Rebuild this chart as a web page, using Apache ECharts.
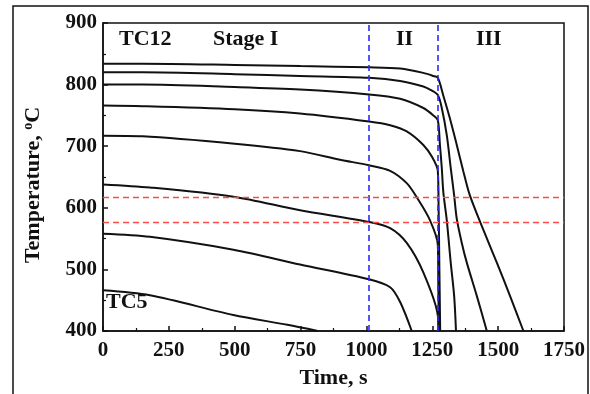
<!DOCTYPE html>
<html><head><meta charset="utf-8">
<script src="https://cdn.jsdelivr.net/npm/echarts@6/dist/echarts.min.js"></script>
<style>html,body{margin:0;padding:0;background:#fff}#c{width:590px;height:394px}</style>
</head><body><div id="c"></div>
<script>
// Temperature curves [time (s), temperature (°C)]
const curve1 = [[0,834],[150,834],[500,832],[750,830],[1010,828],[1128,826],[1216,819],[1254,814],[1271,811],[1292,782],[1317,745],[1343,702],[1368,659],[1392,621],[1444,564],[1495,511],[1545,457],[1596,400]];
const curve2 = [[0,820],[150,820],[500,817],[748,814],[1010,811],[1128,806],[1216,797],[1245,791],[1271,783],[1286,762],[1305,718],[1320,665],[1333,620],[1343,582],[1362,543],[1381,511],[1419,457],[1457,400]];
const curve3 = [[0,800],[150,800],[500,796],[748,792],[1010,784],[1128,777],[1216,762],[1254,750],[1271,742],[1279,702],[1286,665],[1292,625],[1305,580],[1320,511],[1333,457],[1340,400]];
const curve4 = [[0,766],[150,765],[500,760],[748,753],[1010,740],[1090,734],[1153,724],[1216,702],[1250,682],[1271,660],[1274,600],[1277,500],[1280,400]];
const curve5 = [[0,717],[150,716],[500,704],[748,692],[900,678],[1010,669],[1090,660],[1153,640],[1191,617],[1241,580],[1271,540],[1273,470],[1275,400]];
const curve6 = [[0,638],[178,633],[495,618],[748,596],[1010,577],[1090,567],[1153,543],[1216,495],[1271,425],[1273,400]];
const curve7 = [[0,558],[178,553],[495,532],[748,508],[1010,484],[1090,471],[1128,447],[1172,400]];
const curve8 = [[0,466],[178,458],[495,426],[700,410],[815,400]];
const stageLinesX = [1010, 1271];
const tempLinesY = [617, 576];
const xTicks = [0,250,500,750,1000,1250,1500,1750];
const yTicks = [400,500,600,700,800,900];

const curves = [curve1,curve2,curve3,curve4,curve5,curve6,curve7,curve8];
const FONT = '"Liberation Serif", "Times New Roman", serif';
const chart = echarts.init(document.getElementById('c'), null, {renderer:'canvas'});
const series = curves.map(d => ({
  type:'line', data:d, showSymbol:false, smooth:0.3,
  lineStyle:{color:'#111', width:2}, silent:true, z:3
}));
series.push({
  type:'line', data:[], silent:true,
  markLine:{silent:true, symbol:'none', label:{show:false},
    data: stageLinesX.map(x => ({xAxis:x, lineStyle:{color:'#2b2bf5', type:[6,4], width:1.6}}))
      .concat(tempLinesY.map(y => ({yAxis:y, lineStyle:{color:'#ff4a4a', type:[6,4], width:1.4}})))
  }
});
chart.setOption({
  animation:false,
  grid:{left:103, top:23, right:26, bottom:58, show:true, borderColor:'#111', borderWidth:1.5},
  xAxis:{type:'value', min:0, max:1750, interval:250,
    name:'Time, s', nameLocation:'middle', nameGap:36,
    nameTextStyle:{fontFamily:FONT, fontWeight:'bold', fontSize:22, color:'#111'},
    axisLine:{onZero:false, lineStyle:{color:'#111', width:1.5}},
    axisTick:{inside:true, length:5, lineStyle:{color:'#111', width:1.5}},
    minorTick:{show:true, splitNumber:2, length:3, lineStyle:{color:'#111', width:1.2}},
    axisLabel:{margin:9, fontFamily:FONT, fontWeight:'bold', fontSize:21, color:'#111',
      formatter:v => xTicks.includes(v) ? String(v) : ''},
    splitLine:{show:false}},
  yAxis:{type:'value', min:400, max:900, interval:100,
    name:'{a|Temperature, }{s|o}{a|C}', nameLocation:'middle', nameGap:58, nameRotate:90,
    nameTextStyle:{padding:[0,16,0,0], rich:{
      a:{fontFamily:FONT, fontWeight:'bold', fontSize:22, color:'#111'},
      s:{fontFamily:FONT, fontWeight:'bold', fontSize:14, color:'#111', verticalAlign:'top', padding:[0,0,10,0]}}},
    axisLine:{lineStyle:{color:'#111', width:1.5}},
    axisTick:{inside:true, length:5, lineStyle:{color:'#111', width:1.5}},
    minorTick:{show:true, splitNumber:2, length:3, lineStyle:{color:'#111', width:1.2}},
    axisLabel:{margin:6, fontFamily:FONT, fontWeight:'bold', fontSize:21, color:'#111',
      formatter:v => yTicks.includes(v) ? String(v) : ''},
    splitLine:{show:false}},
  graphic:[
    {type:'rect', shape:{x:13, y:6, width:575, height:400}, style:{fill:'none', stroke:'#111', lineWidth:1.5}, z:-1},
    {type:'text', left:119, top:28, style:{text:'TC12', font:'bold 22px '+FONT, fill:'#111'}},
    {type:'text', left:213, top:28, style:{text:'Stage I', font:'bold 22px '+FONT, fill:'#111'}},
    {type:'text', left:396, top:28, style:{text:'II', font:'bold 22px '+FONT, fill:'#111'}},
    {type:'text', left:476, top:28, style:{text:'III', font:'bold 22px '+FONT, fill:'#111'}},
    {type:'text', left:106, top:291, style:{text:'TC5', font:'bold 22px '+FONT, fill:'#111'}}
  ],
  series: series
});
</script></body></html>
